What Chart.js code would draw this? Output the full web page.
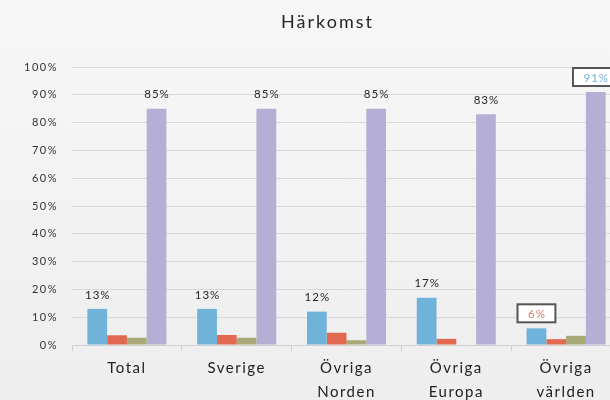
<!DOCTYPE html>
<html lang="sv">
<head>
<meta charset="utf-8">
<title>Härkomst</title>
<script src="https://cdn.jsdelivr.net/npm/chart.js@4"></script>
<style>
  html, body { margin: 0; padding: 0; overflow: hidden; }
  body { background: linear-gradient(180deg, #f7f7f7 0%, #eeeeee 100%); width: 610px; height: 400px; }
  #wrap { width: 625px; height: 400px; }
</style>
</head>
<body>
<div id="wrap"><canvas id="chart" width="625" height="400"></canvas></div>
<script>
const categories = ['Total', 'Sverige', ['Övriga', 'Norden'], ['Övriga', 'Europa'], ['Övriga', 'världen']];
const seriesBlue = [13, 13, 12, 17, 6];
const seriesRed = [3.5, 3.6, 4.4, 2.2, 2.1];
const seriesGreen = [2.6, 2.6, 1.7, 0, 3.3];
const seriesPurple = [85, 85, 85, 83, 91];
// categories whose value labels get a framed box
const boxedLabels = [false, false, false, false, true];

const FONT = 'Lato, "Open Sans", sans-serif';

// draws the value labels above the blue and purple bars
const valueLabels = {
  id: 'valueLabels',
  afterDatasetsDraw(chart) {
    const ctx = chart.ctx;
    const labelled = [
      { index: 0, boxColor: '#e07563' },
      { index: 3, boxColor: '#6fb3da' }
    ];
    ctx.save();
    ctx.font = '11.5px ' + FONT;
    ctx.textAlign = 'center';
    ctx.textBaseline = 'middle';
    ctx.letterSpacing = '1px';
    labelled.forEach(({ index, boxColor }) => {
      const meta = chart.getDatasetMeta(index);
      const data = chart.data.datasets[index].data;
      meta.data.forEach((bar, i) => {
        const text = data[i] + '%';
        const y = bar.y - 15;
        if (boxedLabels[i]) {
          const w = ctx.measureText(text).width + 20;
          ctx.fillStyle = '#ffffff';
          ctx.fillRect(bar.x - w / 2, y - 9, w, 18);
          ctx.strokeStyle = '#555555';
          ctx.lineWidth = 2;
          ctx.strokeRect(bar.x - w / 2, y - 9, w, 18);
          ctx.fillStyle = boxColor;
        } else {
          ctx.fillStyle = '#262626';
        }
        ctx.fillText(text, bar.x + 0.5, y + 1);
      });
    });
    ctx.restore();
  }
};

// title above the plot area
const plotTitle = {
  id: 'plotTitle',
  beforeUpdate(chart) {
    chart.ctx.letterSpacing = '1.5px';
  },
  afterDraw(chart) {
    const ctx = chart.ctx;
    const area = chart.chartArea;
    ctx.save();
    ctx.font = '18px ' + FONT;
    ctx.letterSpacing = '2px';
    ctx.fillStyle = '#262626';
    ctx.textAlign = 'center';
    ctx.textBaseline = 'middle';
    ctx.fillText('Härkomst', (area.left + area.right) / 2 - 19, 22);
    ctx.restore();
  }
};

const makeSet = (label, data, color) => ({
  label,
  data,
  backgroundColor: color,
  borderWidth: 0,
  categoryPercentage: 0.72,
  barPercentage: 1.0
});

new Chart(document.getElementById('chart'), {
  type: 'bar',
  data: {
    labels: categories,
    datasets: [
      makeSet('Serie 1', seriesBlue, '#6fb3da'),
      makeSet('Serie 2', seriesRed, '#e2694f'),
      makeSet('Serie 3', seriesGreen, '#a9a978'),
      makeSet('Serie 4', seriesPurple, '#b6afd5')
    ]
  },
  options: {
    responsive: false,
    animation: false,
    layout: { padding: { top: 67, right: 4, left: 0, bottom: 0 } },
    plugins: {
      legend: { display: false },
      title: { display: false },
      tooltip: { enabled: false }
    },
    scales: {
      x: {
        offset: true,
        grid: { offset: true, drawOnChartArea: false, tickLength: 6, color: '#d0d0d0' },
        border: { color: '#d0d0d0' },
        ticks: {
          color: '#222222',
          padding: 5,
          maxRotation: 0,
          font: { family: FONT, size: 15, lineHeight: 1.6 }
        },
        afterFit: scale => { scale.height = 55; }
      },
      y: {
        min: 0,
        max: 100,
        grid: { color: '#d9d9d9', drawTicks: false },
        border: { display: false },
        ticks: {
          stepSize: 10,
          padding: 14,
          color: '#333333',
          font: { family: FONT, size: 11 },
          callback: v => v + '%'
        },
        afterFit: scale => { scale.width = 72; }
      }
    }
  },
  plugins: [plotTitle, valueLabels]
});
</script>
</body>
</html>
